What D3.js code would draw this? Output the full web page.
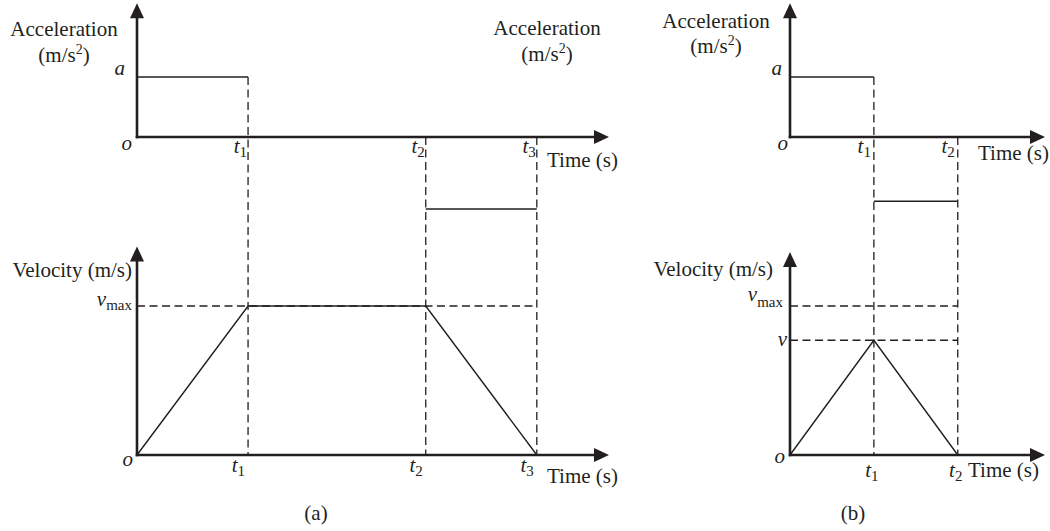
<!DOCTYPE html>
<html>
<head>
<meta charset="utf-8">
<script src="https://cdn.jsdelivr.net/npm/d3@7"></script>
<style>
  html, body { margin: 0; padding: 0; background: #fff; }
  svg { display: block; }
</style>
</head>
<body>
<svg id="chart" width="1050" height="531"></svg>
<script>
// ---- Panel (a): accelerate, cruise at v_max, decelerate ----
const timesA = [0, 1, 2.6, 3.6];          // o, t1, t2, t3
const accelA = [1, 0, -1.2];              // acceleration during each phase
const velocityA = [0, 1, 1, 0];           // velocity at each time mark
const tickLabelsA = ["1", "2", "3"];      // subscripts of t
const refLevelsA = [{ value: 1, base: "v", sub: "max" }];

// ---- Panel (b): accelerate then decelerate, peak below v_max ----
const timesB = [0, 1, 2];                 // o, t1, t2
const accelB = [1, -1.07];
const velocityB = [0, 0.77, 0];
const tickLabelsB = ["1", "2"];
const refLevelsB = [{ value: 1, base: "v", sub: "max" }, { value: 0.77, base: "v", sub: "" }];

const panelNames = ["(a)", "(b)"];
const accelLabel = ["Acceleration", "(m/s", "2", ")"];
const velocityLabel = "Velocity (m/s)";
const timeLabel = "Time (s)";

const ink = "#231f20";
const serif = "Liberation Serif";
const svg = d3.select("#chart");

// every label goes through here so it gets the serif face
function txt(g, x, y, size) {
  return g.append("text").attr("x", x).attr("y", y)
    .attr("font-family", serif).attr("font-size", size).attr("fill", ink);
}

function arrowHead(g, x, y, dir) {
  const L = 15, W = 7;
  const pts = dir === "up"
    ? [[x, y], [x - W, y + L], [x + W, y + L]]
    : [[x, y], [x - L, y - W], [x - L, y + W]];
  g.append("path").attr("d", d3.line()(pts) + "Z").attr("fill", ink);
}

function unitText(g, x, y) {
  const t = txt(g, x, y, 21).attr("text-anchor", "middle");
  t.append("tspan").text(accelLabel[1]);
  t.append("tspan").attr("font-size", 14).attr("dy", -8).text(accelLabel[2]);
  t.append("tspan").attr("dy", 8).text(accelLabel[3]);
}

function tLabel(g, x, y, sub, anchor) {
  const t = txt(g, x, y, 21).attr("text-anchor", anchor);
  t.append("tspan").attr("font-style", "italic").text("t");
  t.append("tspan").attr("font-size", 15).attr("dy", 4).text(sub);
}

function drawPanel(cfg) {
  const g = svg.append("g");
  const x = d3.scaleLinear().domain([0, cfg.xEnd]).range(cfg.xRange);
  const yA = d3.scaleLinear().domain([0, 1]).range([137, 77]);
  const yV = d3.scaleLinear().domain([0, 1]).range([455, 306]);
  const t = cfg.times, acc = cfg.accel;
  const last = t[t.length - 1];

  const dashed = sel => sel.attr("stroke", ink).attr("stroke-width", 1.3)
    .attr("stroke-dasharray", "8,4.5").attr("fill", "none");

  // dashed guides at each switching time
  t.slice(1).forEach((ti, k) => {
    const i = k + 1;
    const top = Math.max(0, acc[i - 1] ?? 0, acc[i] ?? 0);
    dashed(g.append("line")
      .attr("x1", x(ti)).attr("x2", x(ti))
      .attr("y1", yA(top)).attr("y2", yV(0)));
  });
  // dashed velocity reference levels
  cfg.refLevels.forEach(r => {
    dashed(g.append("line")
      .attr("x1", x(0)).attr("x2", x(last))
      .attr("y1", yV(r.value)).attr("y2", yV(r.value)));
  });

  // acceleration profile (piecewise constant)
  acc.forEach((a, i) => {
    if (a === 0) return;
    g.append("line")
      .attr("x1", x(t[i])).attr("x2", x(t[i + 1]))
      .attr("y1", yA(a)).attr("y2", yA(a))
      .attr("stroke", ink).attr("stroke-width", 1.4);
  });

  // velocity profile
  g.append("path")
    .datum(t.map((ti, i) => [ti, cfg.velocity[i]]))
    .attr("d", d3.line().x(d => x(d[0])).y(d => yV(d[1])))
    .attr("fill", "none").attr("stroke", ink).attr("stroke-width", 1.4);

  // axes with arrowheads
  const axisStyle = l => l.attr("stroke", ink).attr("stroke-width", 2.6);
  const x0 = x(0), xTip = x(cfg.xEnd);
  [[yA, cfg.accelTop], [yV, cfg.velTop]].forEach(([ys, topVal]) => {
    const yTip = ys(topVal);
    axisStyle(g.append("line").attr("x1", x0).attr("x2", x0)
      .attr("y1", ys(0) + 1.3).attr("y2", yTip + 12));
    axisStyle(g.append("line").attr("x1", x0 - 1.3).attr("x2", xTip - 12)
      .attr("y1", ys(0)).attr("y2", ys(0)));
    arrowHead(g, x0, yTip, "up");
    arrowHead(g, xTip, ys(0), "right");
  });

  // axis titles
  const L = cfg.lab;
  txt(g, L.accX, L.accY, 21).attr("text-anchor", "middle").text(accelLabel[0]);
  unitText(g, L.accX, L.accY + L.unitGap);
  if (L.acc2X) {
    txt(g, L.acc2X, L.acc2Y, 21).attr("text-anchor", "middle").text(accelLabel[0]);
    unitText(g, L.acc2X, L.acc2Y + L.unitGap);
  }
  txt(g, x0 - L.velDx, L.velY, 21).attr("text-anchor", "end").text(velocityLabel);

  // acceleration level "a"
  txt(g, x0 - L.aDx, yA(1) - 2, 21).attr("text-anchor", "end")
    .attr("font-style", "italic").text("a");
  // origins
  txt(g, x0 - L.oTopDx, yA(0) + 13, 21).attr("text-anchor", "end")
    .attr("font-style", "italic").text("o");
  txt(g, x0 - L.oBotDx, yV(0) + L.oBotDy, 21).attr("text-anchor", "end")
    .attr("font-style", "italic").text("o");

  // velocity reference labels
  cfg.refLevels.forEach((r, i) => {
    const p = L.ref[i];
    const tx = txt(g, x0 - p.dx, yV(r.value) + p.dy, 21).attr("text-anchor", "end");
    tx.append("tspan").attr("font-style", "italic").text(r.base);
    if (r.sub) tx.append("tspan").attr("font-size", 15).attr("dy", p.subDy).text(r.sub);
  });

  // time tick labels
  t.slice(1).forEach((ti, i) => {
    tLabel(g, x(ti) + L.tTopDx, L.tTopY, cfg.ticks[i], "end");
    tLabel(g, x(ti) + L.tBotDx, L.tBotY, cfg.ticks[i], L.tBotAnchor);
  });
  txt(g, L.timeTopX, L.timeTopY, 21).text(timeLabel);
  txt(g, L.timeBotX, L.timeBotY, 21).text(timeLabel);

  txt(g, L.capX, 520, 21).attr("text-anchor", "middle").text(cfg.name);
}

drawPanel({
  name: panelNames[0],
  times: timesA, accel: accelA, velocity: velocityA, ticks: tickLabelsA, refLevels: refLevelsA,
  xEnd: 4.25, xRange: [137, 609], accelTop: 2.23, velTop: 1.40,
  lab: {
    accX: 64, accY: 36, acc2X: 547, acc2Y: 35, unitGap: 26,
    velDx: 5, velY: 277, aDx: 12, oTopDx: 5, oBotDx: 4, oBotDy: 11,
    ref: [{ dx: 5, dy: 0, subDy: 3.5 }],
    tTopDx: -1, tTopY: 153, tBotDx: -3, tBotY: 472, tBotAnchor: "end",
    timeTopX: 547, timeTopY: 167, timeBotX: 547, timeBotY: 483, capX: 316
  }
});

drawPanel({
  name: panelNames[1],
  times: timesB, accel: accelB, velocity: velocityB, ticks: tickLabelsB, refLevels: refLevelsB,
  xEnd: 3.04, xRange: [790, 1045], accelTop: 2.23, velTop: 1.362,
  lab: {
    accX: 716, accY: 28, unitGap: 25,
    velDx: 17, velY: 276, aDx: 8, oTopDx: 2, oBotDx: 5, oBotDy: 8,
    ref: [{ dx: 7, dy: -5.5, subDy: 6.5 }, { dx: 3, dy: 6, subDy: 0 }],
    tTopDx: -3, tTopY: 153, tBotDx: -2, tBotY: 477, tBotAnchor: "middle",
    timeTopX: 978, timeTopY: 160, timeBotX: 968, timeBotY: 477, capX: 853
  }
});
</script>
</body>
</html>
